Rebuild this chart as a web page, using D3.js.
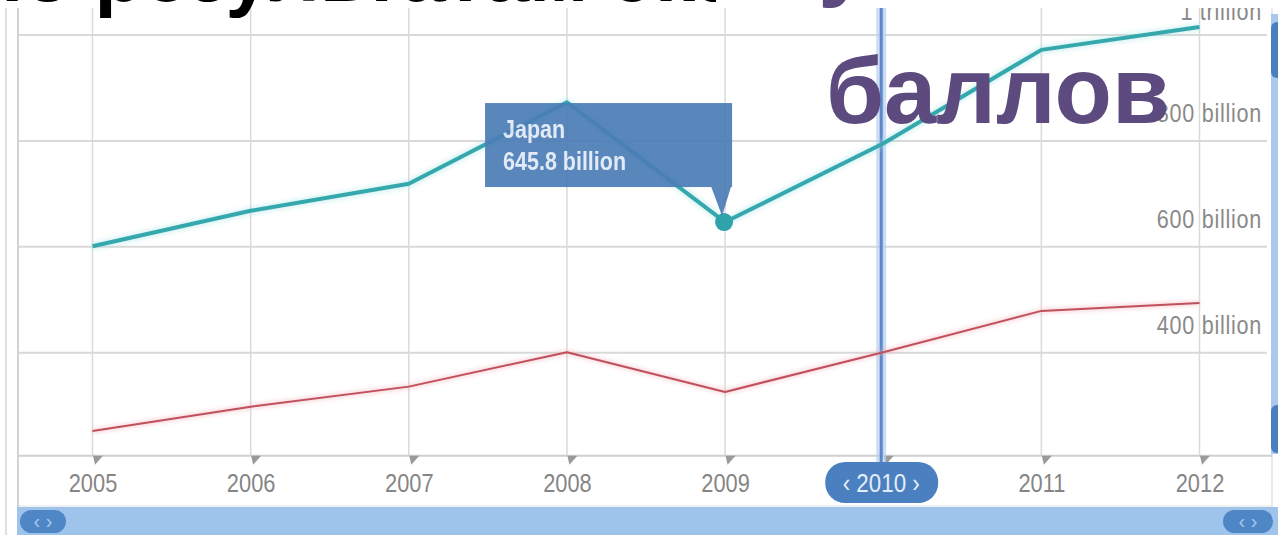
<!DOCTYPE html>
<html><head><meta charset="utf-8">
<script src="https://cdn.jsdelivr.net/npm/d3@7"></script>
<style>
html,body{margin:0;padding:0;background:#fff;overflow:hidden}
svg{display:block}
</style></head>
<body>
<script>
// ---- data ----
const years = [2005, 2006, 2007, 2008, 2009, 2010, 2011, 2012];
const japanValues = [600, 667, 718, 872, 645.8, 794, 971, 1014];   // billions
const secondValues = [251, 297, 335, 400, 325, 400, 478, 493];     // billions
const yTickValues = [400, 600, 800, 1000];
const yTickLabels = ["400 billion", "600 billion", "800 billion", "1 trillion"];
const selectedYear = 2010;
const tooltipSeries = "Japan";
const tooltipYear = 2009;
const tooltipText = "645.8 billion";
const titleLine1Black = "по результатам экзамена";
const titleLine1Purple = "у";
const titleLine2 = "баллов";

// ---- layout ----
const W = 1278, H = 535;
const plot = {left: 19, right: 1267, top: 8, bottom: 456};
const condensed = "Liberation Sans, Arial, sans-serif";
const svg = d3.select("body").append("svg").attr("width", W).attr("height", H);

const x = d3.scaleLinear().domain([2005, 2012]).range([92.5, 1199.5]);
const y = d3.scaleLinear().domain([200, 1000]).range([458.1, 34.5]);

const defs = svg.append("defs");
defs.append("clipPath").attr("id", "plotClip").append("rect")
  .attr("x", plot.left).attr("y", plot.top)
  .attr("width", plot.right - plot.left).attr("height", plot.bottom - plot.top);
defs.append("clipPath").attr("id", "topClip").append("rect")
  .attr("x", 0).attr("y", -200).attr("width", 716).attr("height", 400);
defs.append("filter").attr("id", "blur2").append("feGaussianBlur").attr("stdDeviation", 2);

// left border lines
svg.append("line").attr("x1", 6).attr("x2", 6).attr("y1", 8).attr("y2", H)
  .attr("stroke", "#d6d6d6").attr("stroke-width", 1.5);
svg.append("line").attr("x1", 18).attr("x2", 18).attr("y1", 8).attr("y2", 507)
  .attr("stroke", "#c4c4c4").attr("stroke-width", 1.5);
// right border
svg.append("line").attr("x1", plot.right + 5).attr("x2", plot.right + 5).attr("y1", 8).attr("y2", 507)
  .attr("stroke", "#dcdcdc").attr("stroke-width", 1.2);

const g = svg.append("g").attr("clip-path", "url(#plotClip)");

// vertical gridlines
g.selectAll("line.vgrid").data(years).join("line").attr("class", "vgrid")
  .attr("x1", d => x(d)).attr("x2", d => x(d))
  .attr("y1", plot.top).attr("y2", plot.bottom)
  .attr("stroke", "#dadada").attr("stroke-width", 1.5);

// horizontal gridlines via axis
const yGrid = g.append("g").attr("transform", `translate(${plot.left},0)`)
  .call(d3.axisRight(y).tickValues(yTickValues).tickSize(plot.right - plot.left).tickFormat(""));
yGrid.select(".domain").remove();
yGrid.selectAll(".tick line").attr("stroke", "#d9d9d9").attr("stroke-width", 2);

// y labels
svg.append("g").attr("clip-path", "url(#plotClip)")
  .selectAll("text").data(yTickValues).join("text")
  .attr("transform", d => `translate(1262,${Math.max(y(d) - 18, 20)}) scale(0.9,1.08)`)
  .attr("text-anchor", "end")
  .attr("font-family", condensed)
  .attr("font-size", 24).attr("letter-spacing", 0.8)
  .attr("fill", "#8a8a8a")
  .text((d, i) => yTickLabels[i]);

// x axis
const xAxis = svg.append("g").attr("transform", "translate(0,455.7)")
  .call(d3.axisBottom(x).tickValues(years).tickFormat(d3.format("d")).tickSize(0));
xAxis.select(".domain").attr("d", `M${plot.left},0H${plot.right + 5}`)
  .attr("stroke", "#cfcfcf").attr("stroke-width", 2);
xAxis.selectAll(".tick").append("path")
  .attr("d", "M0,0L10,0L2,9Z").attr("fill", "#9a9a9a");
xAxis.selectAll(".tick text")
  .attr("y", 0).attr("dy", 0)
  .attr("transform", "translate(0,36) scale(0.84,1)")
  .attr("font-family", condensed)
  .attr("font-size", 26).attr("fill", "#858585")
  .style("display", d => d === selectedYear ? "none" : null);
// bottom border of axis area
svg.append("line").attr("x1", plot.left).attr("x2", plot.right + 5).attr("y1", 506).attr("y2", 506)
  .attr("stroke", "#e2e2e2").attr("stroke-width", 1);

// selection line
const sx = x(selectedYear) - 2;
svg.append("line").attr("x1", sx).attr("x2", sx).attr("y1", 8).attr("y2", 464)
  .attr("stroke", "#b9d0f0").attr("stroke-width", 10).attr("opacity", 0.7);
svg.append("line").attr("x1", sx).attr("x2", sx).attr("y1", 8).attr("y2", 464)
  .attr("stroke", "#5a88c8").attr("stroke-width", 3);

// series lines
const line = d3.line().x((d, i) => x(years[i])).y(d => y(d));
const lg = svg.append("g").attr("clip-path", "url(#plotClip)");
lg.append("path").attr("d", line(secondValues)).attr("fill", "none")
  .attr("stroke", "#f2a8b4").attr("stroke-width", 5).attr("opacity", 0.45).attr("filter", "url(#blur2)");
lg.append("path").attr("d", line(secondValues)).attr("fill", "none")
  .attr("stroke", "#c0505c").attr("stroke-width", 2).attr("stroke-linejoin", "round");
lg.append("path").attr("d", line(japanValues)).attr("fill", "none")
  .attr("stroke", "#9fe0e4").attr("stroke-width", 8).attr("opacity", 0.4).attr("filter", "url(#blur2)");
lg.append("path").attr("d", line(japanValues)).attr("fill", "none")
  .attr("stroke", "#35a8ad").attr("stroke-width", 4).attr("stroke-linejoin", "round");

// tooltip
const ti = years.indexOf(tooltipYear);
const px = x(tooltipYear), py = y(japanValues[ti]);
lg.append("circle").attr("cx", px - 1).attr("cy", py).attr("r", 9).attr("fill", "#2fa3aa");
const tt = svg.append("g").attr("opacity", 0.92);
tt.append("rect").attr("x", px - 240).attr("y", py - 119).attr("width", 247).attr("height", 84)
  .attr("fill", "#4b7db6");
tt.append("path").attr("d", `M${px - 14},${py - 35.5}L${px + 6},${py - 35.5}L${px - 3},${py - 6}Z`)
  .attr("fill", "#4b7db6");
tt.append("text").attr("transform", `translate(${px - 222},${py - 84}) scale(0.86,1)`)
  .attr("font-family", condensed).attr("font-weight", "bold")
  .attr("font-size", 25).attr("fill", "#dfe9f6").text(tooltipSeries);
tt.append("text").attr("transform", `translate(${px - 222},${py - 52}) scale(0.86,1)`)
  .attr("font-family", condensed).attr("font-weight", "bold")
  .attr("font-size", 25).attr("fill", "#dfe9f6").text(tooltipText);

// selected year pill
svg.append("rect").attr("x", sx - 56).attr("y", 462).attr("width", 113).attr("height", 41)
  .attr("rx", 20).attr("fill", "#4a80bf");
svg.append("text").attr("transform", `translate(${sx},492) scale(0.86,1)`).attr("text-anchor", "middle")
  .attr("font-family", condensed)
  .attr("font-size", 26).attr("fill", "#e4eefa").text(`‹ ${selectedYear} ›`);

// scrollbar
svg.append("rect").attr("x", 17).attr("y", 507).attr("width", W - 17).attr("height", 28).attr("fill", "#9ec4eb");
[[20, 66], [1223, 1273]].forEach(([a, b]) => {
  svg.append("rect").attr("x", a).attr("y", 510).attr("width", b - a).attr("height", 23)
    .attr("rx", 11.5).attr("fill", "#4f86c6");
  svg.append("text").attr("x", (a + b) / 2).attr("y", 528).attr("text-anchor", "middle")
    .attr("font-family", "Liberation Sans, sans-serif").attr("font-size", 20)
    .attr("fill", "#a8c8ee").text("‹  ›");
});

// right vertical slider
svg.append("rect").attr("x", 1271).attr("y", 14).attr("width", 10).attr("height", 440)
  .attr("fill", "#a9c8ec");
svg.append("rect").attr("x", 1271).attr("y", 22).attr("width", 12).attr("height", 56)
  .attr("rx", 6).attr("fill", "#4a7fbf");
svg.append("rect").attr("x", 1271).attr("y", 405).attr("width", 12).attr("height", 48)
  .attr("rx", 6).attr("fill", "#4a7fbf");

// slide title overlay
svg.append("rect").attr("x", 0).attr("y", 0).attr("width", 1268).attr("height", 8).attr("fill", "#fff");
svg.append("text").attr("x", -25).attr("y", 1).attr("clip-path", "url(#topClip)")
  .attr("font-family", "Liberation Sans, Arial, sans-serif").attr("font-weight", "bold")
  .attr("font-size", 80).attr("fill", "#000").text(titleLine1Black);
svg.append("text").attr("x", 818).attr("y", -12)
  .attr("font-family", "Liberation Sans, Arial, sans-serif").attr("font-weight", "bold")
  .attr("font-size", 94).attr("fill", "#5d4a7e").text(titleLine1Purple);
svg.append("text").attr("x", 826).attr("y", 123)
  .attr("font-family", "Liberation Sans, Arial, sans-serif").attr("font-weight", "bold")
  .attr("font-size", 94).attr("fill", "#5d4a7e").text(titleLine2);
</script>
</body></html>
